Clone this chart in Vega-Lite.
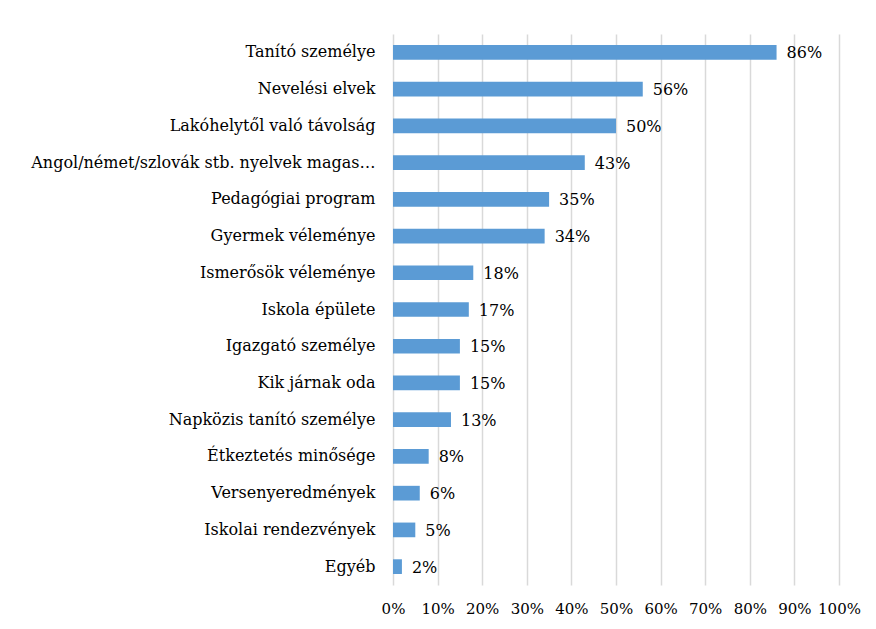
{
  "$schema": "https://vega.github.io/schema/vega-lite/v6.json",
  "autosize": "none",
  "width": 446,
  "height": 551,
  "padding": {"left": 393, "top": 34, "right": 37, "bottom": 44},
  "background": "white",
  "data": {
    "values": [
      {"k": "Tanító személye", "v": 0.86},
      {"k": "Nevelési elvek", "v": 0.56},
      {"k": "Lakóhelytől való távolság", "v": 0.50},
      {"k": "Angol/német/szlovák stb. nyelvek magas…", "v": 0.43},
      {"k": "Pedagógiai program", "v": 0.35},
      {"k": "Gyermek véleménye", "v": 0.34},
      {"k": "Ismerősök véleménye", "v": 0.18},
      {"k": "Iskola épülete", "v": 0.17},
      {"k": "Igazgató személye", "v": 0.15},
      {"k": "Kik járnak oda", "v": 0.15},
      {"k": "Napközis tanító személye", "v": 0.13},
      {"k": "Étkeztetés minősége", "v": 0.08},
      {"k": "Versenyeredmények", "v": 0.06},
      {"k": "Iskolai rendezvények", "v": 0.05},
      {"k": "Egyéb", "v": 0.02}
    ]
  },
  "encoding": {
    "y": {
      "field": "k", "type": "nominal", "sort": null, "title": null,
      "scale": {"paddingInner": 0.6, "paddingOuter": 0.3},
      "axis": {"domain": false, "ticks": false, "labelPadding": 18, "labelLimit": 400, "labelFontSize": 16, "labelColor": "#000000"}
    }
  },
  "layer": [
    {
      "mark": {"type": "bar", "color": "#5B9BD5"},
      "encoding": {
        "x": {
          "field": "v", "type": "quantitative", "title": null,
          "scale": {"domain": [0, 1], "nice": false},
          "axis": {"values": [0, 0.1, 0.2, 0.3, 0.4, 0.5, 0.6, 0.7, 0.8, 0.9, 1], "format": ".0%", "labelOverlap": false, "labelFlush": false, "domain": false, "ticks": false, "grid": true, "gridColor": "#d9d9d9", "gridWidth": 1.5, "labelPadding": 16, "labelFontSize": 15, "labelColor": "#000000"}
        }
      }
    },
    {
      "mark": {"type": "text", "align": "left", "baseline": "middle", "dx": 10, "dy": 1, "fontSize": 16, "color": "#000000"},
      "encoding": {
        "x": {"field": "v", "type": "quantitative"},
        "text": {"field": "v", "type": "quantitative", "format": ".0%"}
      }
    }
  ],
  "config": {"view": {"stroke": null}, "font": "DejaVu Serif", "axis": {"labelFont": "DejaVu Serif"}, "text": {"font": "DejaVu Serif"}}
}
